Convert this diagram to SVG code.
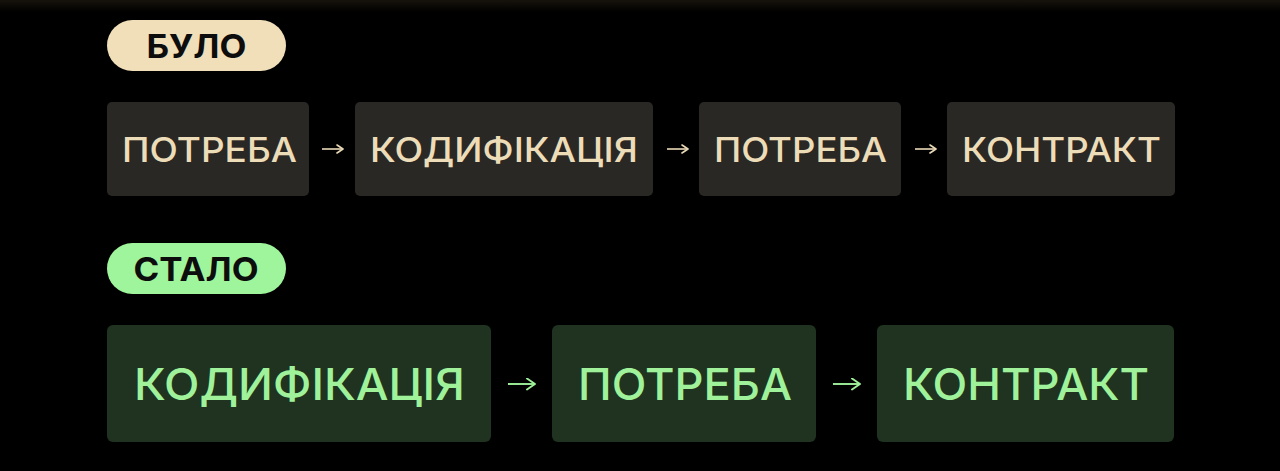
<svg xmlns="http://www.w3.org/2000/svg" width="1280" height="471" viewBox="0 0 1280 471">
  <defs>
    <linearGradient id="topglow" x1="0" y1="0" x2="0" y2="1">
      <stop offset="0" stop-color="#17120c"/>
      <stop offset="1" stop-color="#000000"/>
    </linearGradient>
    <marker id="ahTop" viewBox="0 0 10 10" refX="9" refY="5" markerWidth="10" markerHeight="10" markerUnits="userSpaceOnUse" orient="auto">
      <path d="M3,1 L9,5 L3,9" fill="none" stroke="#e9d9b6" stroke-width="1.6" stroke-linecap="round" stroke-linejoin="round"/>
    </marker>
    <marker id="ahBot" viewBox="0 0 13 13" refX="12" refY="6.5" markerWidth="13" markerHeight="13" markerUnits="userSpaceOnUse" orient="auto">
      <path d="M4,1 L12,6.5 L4,12" fill="none" stroke="#9ff29a" stroke-width="1.9" stroke-linecap="round" stroke-linejoin="round"/>
    </marker>
  </defs>
  <style>
    .old rect { fill: #2a2824; }
    .old text { fill: #ecdcb8; font-family: Inter, "Liberation Sans", Arial, sans-serif; font-weight: 500; font-size: 34px; text-anchor: middle; }
    .new rect { fill: #1f3320; }
    .new text { fill: #9ff29a; font-family: Inter, "Liberation Sans", Arial, sans-serif; font-weight: 500; font-size: 44px; text-anchor: middle; }
    .pill text { fill: #0d0d0d; font-family: Inter, "Liberation Sans", Arial, sans-serif; font-weight: bold; font-size: 33px; text-anchor: middle; }
    .c-old { stroke: #e9d9b6; stroke-width: 1.6; fill: none; }
    .c-new { stroke: #9ff29a; stroke-width: 1.9; fill: none; }
  </style>
  <rect x="0" y="0" width="1280" height="471" fill="#000000"/>
  <rect x="0" y="0" width="1280" height="12" fill="url(#topglow)"/>

  <g id="label-bulo" class="pill">
    <rect x="107" y="20" width="179" height="51" rx="25.5" fill="#f0dfb9"/>
    <text x="196.5" y="58" textLength="100" lengthAdjust="spacingAndGlyphs">БУЛО</text>
  </g>

  <g id="old-potreba-1" class="old">
    <rect x="107" y="102" width="202" height="94" rx="5"/>
    <text x="209.5" y="162" textLength="175" lengthAdjust="spacingAndGlyphs">ПОТРЕБА</text>
  </g>
  <g id="old-kodyfikatsiia" class="old">
    <rect x="355" y="102" width="298" height="94" rx="5"/>
    <text x="504" y="162" textLength="268" lengthAdjust="spacingAndGlyphs">КОДИФІКАЦІЯ</text>
  </g>
  <g id="old-potreba-2" class="old">
    <rect x="699" y="102" width="202" height="94" rx="5"/>
    <text x="800.5" y="162" textLength="173" lengthAdjust="spacingAndGlyphs">ПОТРЕБА</text>
  </g>
  <g id="old-kontrakt" class="old">
    <rect x="947" y="102" width="228" height="94" rx="5"/>
    <text x="1061.5" y="162" textLength="199" lengthAdjust="spacingAndGlyphs">КОНТРАКТ</text>
  </g>

  <g id="label-stalo" class="pill">
    <rect x="107" y="243" width="179" height="51" rx="25.5" fill="#9ff59b"/>
    <text x="196" y="281" textLength="125" lengthAdjust="spacingAndGlyphs">СТАЛО</text>
  </g>

  <g id="new-kodyfikatsiia" class="new">
    <rect x="107" y="325" width="384" height="117" rx="6"/>
    <text x="299.5" y="400" textLength="331" lengthAdjust="spacingAndGlyphs">КОДИФІКАЦІЯ</text>
  </g>
  <g id="new-potreba" class="new">
    <rect x="552" y="325" width="264" height="117" rx="6"/>
    <text x="685" y="400" textLength="214" lengthAdjust="spacingAndGlyphs">ПОТРЕБА</text>
  </g>
  <g id="new-kontrakt" class="new">
    <rect x="877" y="325" width="297" height="117" rx="6"/>
    <text x="1026" y="400" textLength="246" lengthAdjust="spacingAndGlyphs">КОНТРАКТ</text>
  </g>

  <g id="connectors">
    <line class="c-old" x1="322" y1="149" x2="343" y2="149" marker-end="url(#ahTop)"/>
    <line class="c-old" x1="667" y1="149" x2="688" y2="149" marker-end="url(#ahTop)"/>
    <line class="c-old" x1="915" y1="149" x2="936" y2="149" marker-end="url(#ahTop)"/>
    <line class="c-new" x1="508" y1="384" x2="535" y2="384" marker-end="url(#ahBot)"/>
    <line class="c-new" x1="833" y1="384" x2="860" y2="384" marker-end="url(#ahBot)"/>
  </g>
</svg>
